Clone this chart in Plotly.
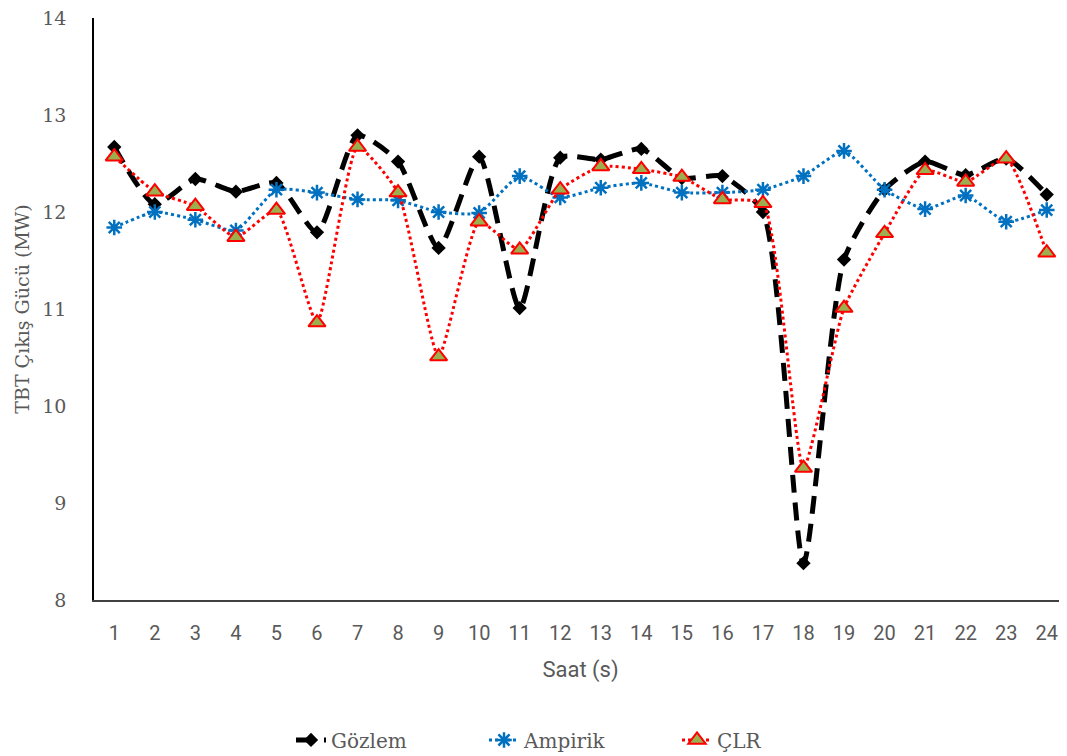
import plotly.graph_objects as go

saat = list(range(1, 25))
gozlem = [12.67, 12.08, 12.34, 12.21, 12.30, 11.79, 12.79, 12.52, 11.63, 12.57, 11.01, 12.56,
          12.54, 12.65, 12.35, 12.37, 12.00, 8.38, 11.51, 12.23, 12.52, 12.38, 12.55, 12.18]
ampirik = [11.84, 12.00, 11.92, 11.81, 12.23, 12.20, 12.13, 12.12, 12.00, 11.99, 12.37, 12.15,
           12.25, 12.30, 12.20, 12.20, 12.23, 12.37, 12.63, 12.23, 12.03, 12.17, 11.90, 12.02]
clr = [12.57, 12.21, 12.06, 11.74, 12.02, 10.86, 12.67, 12.20, 10.51, 11.90, 11.61, 12.23,
       12.47, 12.44, 12.36, 12.13, 12.09, 9.36, 11.01, 11.78, 12.43, 12.31, 12.55, 11.58]

serif = "DejaVu Serif, Liberation Serif, serif"
narrow = "Roboto, Liberation Sans, sans-serif"
gray = "#595959"

fig = go.Figure()
fig.add_trace(go.Scatter(x=saat, y=gozlem, name="Gözlem", mode="lines+markers",
                         line=dict(color="black", width=5, dash="18px,10px", shape="spline", smoothing=0.6),
                         marker=dict(symbol="diamond", size=11, color="black")))
fig.add_trace(go.Scatter(x=saat, y=ampirik, name="Ampirik", mode="lines+markers",
                         line=dict(color="#0070C0", width=3, dash="dot", shape="spline", smoothing=0.5),
                         marker=dict(symbol="asterisk-open", size=13, color="#0070C0",
                                     line=dict(color="#0070C0", width=2.5))))
fig.add_trace(go.Scatter(x=saat, y=clr, name="ÇLR", mode="lines+markers",
                         line=dict(color="#FF0000", width=3, dash="dot", shape="spline", smoothing=0.5),
                         marker=dict(symbol="triangle-up", size=15, color="#9BAF4F",
                                     line=dict(color="#FF0000", width=2))))

# page body has an 8px margin, so the figure is shifted by 8px
fig.update_layout(
    width=1059, height=748,
    margin=dict(l=86, r=0, t=10, b=156, autoexpand=False),
    plot_bgcolor="white", paper_bgcolor="white",
    showlegend=True,
    legend=dict(orientation="h", x=0.5, xanchor="center", y=-0.207, yanchor="top",
                font=dict(family=serif, size=20, color=gray), entrywidth=148),
    xaxis=dict(range=[0.5, 24.5], tickmode="array", tickvals=saat, ticktext=[str(s) for s in saat],
               showgrid=False, zeroline=False, showline=True, linecolor="#404040", linewidth=1.5,
               ticks="", ticklabelstandoff=14, automargin=False,
               tickfont=dict(family=narrow, size=20, color=gray),
               title=dict(text="Saat (s)", font=dict(family=narrow, size=22, color=gray), standoff=18)),
    yaxis=dict(range=[8, 14], dtick=1, showgrid=False, zeroline=False, showline=True,
               linecolor="black", linewidth=1.5, ticks="", ticklabelstandoff=22, automargin=False,
               ticklabeloverflow="allow",
               tickfont=dict(family=serif, size=19, color=gray),
               title=dict(text="TBT Çıkış Gücü (MW)", font=dict(family=serif, size=19, color=gray), standoff=8)),
)

fig.write_html("out.html")
